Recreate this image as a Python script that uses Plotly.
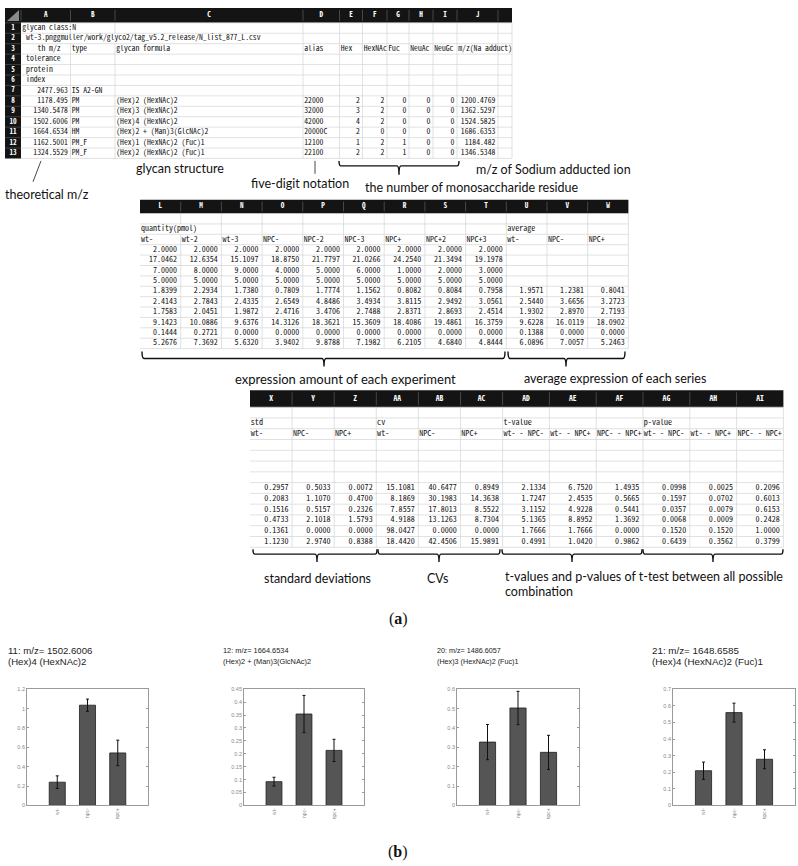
import plotly.graph_objects as go

W, H = 798, 866

# ------------------------------------------------------------------ data
# Table 1 : spreadsheet columns A-J
t1_letters = ["A", "B", "C", "D", "E", "F", "G", "H", "I", "J", ""]
t1_rownums = [str(i) for i in range(1, 14)]
t1_A = ["glycan class:N",
        "\u2002wt-3.pnggmuller/work/glyco2/tag_v5.2_release/N_list_877_L.csv",
        "\u2002\u2002\u2002\u2002th m/z", "\u2002tolerance", "\u2002protein", "\u2002index",
        "2477.963", "1178.495", "1340.5478", "1502.6006", "1664.6534", "1162.5001", "1324.5529"]
t1_B = ["", "", "type", "", "", "", "IS A2-GN", "PM", "PM", "PM", "HM", "PM_F", "PM_F"]
t1_C = ["", "", "glycan formula", "", "", "", "",
        "(Hex)2 (HexNAc)2", "(Hex)3 (HexNAc)2", "(Hex)4 (HexNAc)2",
        "(Hex)2 + (Man)3(GlcNAc)2", "(Hex)1 (HexNAc)2 (Fuc)1", "(Hex)2 (HexNAc)2 (Fuc)1"]
t1_D = ["", "", "alias", "", "", "", "", "22000", "32000", "42000", "20000C", "12100", "22100"]
t1_E = ["", "", "Hex", "", "", "", "", "2", "3", "4", "2", "1", "2"]
t1_F = ["", "", "HexNAc", "", "", "", "", "2", "2", "2", "0", "2", "2"]
t1_G = ["", "", "Fuc", "", "", "", "", "0", "0", "0", "0", "1", "1"]
t1_H = ["", "", "NeuAc", "", "", "", "", "0", "0", "0", "0", "0", "0"]
t1_I = ["", "", "NeuGc", "", "", "", "", "0", "0", "0", "0", "0", "0"]
t1_J = ["", "", "m/z(Na adduct)", "", "", "", "",
        "1200.4769", "1362.5297", "1524.5825", "1686.6353", "1184.482", "1346.5348"]
t1_K = [""] * 13

# Table 2 : quantities (L-T) and averages (U-W)
t2_letters = ["L", "M", "N", "O", "P", "Q", "R", "S", "T", "U", "V", "W"]
t2_names = ["wt-", "wt-2", "wt-3", "NPC-", "NPC-2", "NPC-3", "NPC+", "NPC+2", "NPC+3", "wt-", "NPC-", "NPC+"]
t2_group = ["quantity(pmol)", "", "", "", "", "", "", "", "", "average", "", ""]
q_L = ["2.0000", "17.0462", "7.0000", "5.0000", "1.8399", "2.4143", "1.7583", "9.1423", "0.1444", "5.2676"]
q_M = ["2.0000", "12.6354", "8.0000", "5.0000", "2.2934", "2.7843", "2.0451", "10.0886", "0.2721", "7.3692"]
q_N = ["2.0000", "15.1097", "9.0000", "5.0000", "1.7380", "2.4335", "1.9872", "9.6376", "0.0000", "5.6320"]
q_O = ["2.0000", "18.8750", "4.0000", "5.0000", "0.7809", "2.6549", "2.4716", "14.3126", "0.0000", "3.9402"]
q_P = ["2.0000", "21.7797", "5.0000", "5.0000", "1.7774", "4.8486", "3.4706", "18.3621", "0.0000", "9.8788"]
q_Q = ["2.0000", "21.0266", "6.0000", "5.0000", "1.1562", "3.4934", "2.7488", "15.3609", "0.0000", "7.1982"]
q_R = ["2.0000", "24.2540", "1.0000", "5.0000", "0.8082", "3.8115", "2.8371", "18.4086", "0.0000", "6.2105"]
q_S = ["2.0000", "21.3494", "2.0000", "5.0000", "0.8084", "2.9492", "2.8693", "19.4861", "0.0000", "4.6840"]
q_T = ["2.0000", "19.1978", "3.0000", "5.0000", "0.7958", "3.0561", "2.4514", "16.3759", "0.0000", "4.8444"]
avg_wt = ["", "", "", "", "1.9571", "2.5440", "1.9302", "9.6228", "0.1388", "6.0896"]
avg_npcm = ["", "", "", "", "1.2381", "3.6656", "2.8970", "16.0119", "0.0000", "7.0057"]
avg_npcp = ["", "", "", "", "0.8041", "3.2723", "2.7193", "18.0902", "0.0000", "5.2463"]

# Table 3 : std, cv, t-value, p-value
t3_letters = ["X", "Y", "Z", "AA", "AB", "AC", "AD", "AE", "AF", "AG", "AH", "AI"]
t3_group = ["std", "", "", "cv", "", "", "t-value", "", "", "p-value", "", ""]
t3_names = ["wt-", "NPC-", "NPC+", "wt-", "NPC-", "NPC+",
            "wt- - NPC-", "wt- - NPC+", "NPC- - NPC+", "wt- - NPC-", "wt- - NPC+", "NPC- - NPC+"]
std_wt = ["0.2957", "0.2083", "0.1516", "0.4733", "0.1361", "1.1230"]
std_npcm = ["0.5033", "1.1070", "0.5157", "2.1018", "0.0000", "2.9740"]
std_npcp = ["0.0072", "0.4700", "0.2326", "1.5793", "0.0000", "0.8388"]
cv_wt = ["15.1081", "8.1869", "7.8557", "4.9188", "98.0427", "18.4420"]
cv_npcm = ["40.6477", "30.1983", "17.8013", "13.1263", "0.0000", "42.4506"]
cv_npcp = ["0.8949", "14.3638", "8.5522", "8.7304", "0.0000", "15.9891"]
t_wm = ["2.1334", "1.7247", "3.1152", "5.1365", "1.7666", "0.4991"]
t_wp = ["6.7520", "2.4535", "4.9228", "8.8952", "1.7666", "1.0420"]
t_mp = ["1.4935", "0.5665", "0.5441", "1.3692", "0.0000", "0.9862"]
p_wm = ["0.0998", "0.1597", "0.0357", "0.0068", "0.1520", "0.6439"]
p_wp = ["0.0025", "0.0702", "0.0079", "0.0009", "0.1520", "0.3562"]
p_mp = ["0.2096", "0.6013", "0.6153", "0.2428", "1.0000", "0.3799"]

# Bar charts (b)
bar_cats = ["wt-", "npc-", "npc+"]
p11_mean = [0.240, 1.035, 0.542]
p11_err = [0.065, 0.063, 0.132]
p12_mean = [0.092, 0.354, 0.213]
p12_err = [0.017, 0.072, 0.043]
p20_mean = [0.327, 0.503, 0.274]
p20_err = [0.091, 0.086, 0.088]
p21_mean = [0.209, 0.559, 0.278]
p21_err = [0.052, 0.057, 0.057]
p_titles = [["11: m/z= 1502.6006", "(Hex)4 (HexNAc)2"],
            ["12: m/z= 1664.6534", "(Hex)2 + (Man)3(GlcNAc)2"],
            ["20: m/z= 1486.6057", "(Hex)3 (HexNAc)2 (Fuc)1"],
            ["21: m/z= 1648.6585", "(Hex)4 (HexNAc)2 (Fuc)1"]]
p_yrange = [1.2, 0.45, 0.6, 0.7]
p_dtick = [0.2, 0.05, 0.1, 0.1]

# ------------------------------------------------------------------ helpers
TFONT = "Noto Sans Mono CJK JP, Noto Sans CJK JP, DejaVu Sans Mono, monospace"
LFONT = "Lato, Open Sans, sans-serif"
GRID = "#d4d4d4"

fig = go.Figure()
shapes = []
annotations = []


def is_num(s):
    try:
        float(s)
        return True
    except ValueError:
        return False


def build_table(left, top, widths, header_h, row_h, headers, columns, fsize, hsize,
                left_cols=(), hide=(), rownums=None, lpad=1.2, rpad=3.0):
    xs = [left]
    for w in widths:
        xs.append(xs[-1] + w)
    n_rows = len(columns[0])
    body_top = top + header_h
    bottom = body_top + n_rows * row_h
    c0 = 1 if rownums is not None else 0
    # header band
    shapes.append(dict(type="rect", xref="x", yref="y", x0=xs[0], x1=xs[-1], y0=top, y1=body_top,
                       fillcolor="#141414", line_width=0, layer="below"))
    if rownums is not None:
        shapes.append(dict(type="rect", xref="x", yref="y", x0=xs[0], x1=xs[1], y0=top, y1=bottom,
                           fillcolor="#141414", line_width=0, layer="below"))
        shapes.append(dict(type="path", xref="x", yref="y",
                           path=f"M{xs[1]-2},{top+2} L{xs[1]-2},{body_top-2} L{xs[0]+2},{body_top-2} Z",
                           fillcolor="#8a8a8a", line_width=0, layer="below"))
        for k in range(n_rows):
            yk = body_top + k * row_h
            shapes.append(dict(type="line", xref="x", yref="y", x0=xs[0], x1=xs[1], y0=yk, y1=yk,
                               line=dict(color="#5a5a5a", width=0.6), layer="below"))
    # horizontal grid
    for k in range(n_rows + 1):
        yk = body_top + k * row_h
        shapes.append(dict(type="line", xref="x", yref="y", x0=xs[c0], x1=xs[-1], y0=yk, y1=yk,
                           line=dict(color=GRID, width=0.7), layer="below"))
    # vertical grid (with hidden overflow segments)
    for j in range(c0 + 1, len(xs)):
        seg_start = None
        for r in range(n_rows + 1):
            visible = r < n_rows and (r, j) not in hide
            if visible and seg_start is None:
                seg_start = r
            if not visible and seg_start is not None:
                shapes.append(dict(type="line", xref="x", yref="y", x0=xs[j], x1=xs[j],
                                   y0=body_top + seg_start * row_h, y1=body_top + r * row_h,
                                   line=dict(color=GRID, width=0.7), layer="below"))
                seg_start = None
    # header separators
    for j in range(1, len(xs) - 1):
        shapes.append(dict(type="line", xref="x", yref="y", x0=xs[j], x1=xs[j],
                           y0=top + 2, y1=body_top - 2,
                           line=dict(color="#6a6a6a", width=0.6), layer="below"))
    # texts
    hx, hy, ht = [], [], []
    for ci, h in enumerate(headers):
        j = ci + c0
        if h:
            hx.append((xs[j] + xs[j + 1]) / 2)
            hy.append(top + header_h / 2)
            ht.append(h)
    if rownums is not None:
        for r, s in enumerate(rownums):
            hx.append((xs[0] + xs[1]) / 2)
            hy.append(body_top + (r + 0.5) * row_h)
            ht.append(s)
    fig.add_trace(go.Scatter(x=hx, y=hy, text=ht, mode="text", textposition="middle center",
                             textfont=dict(family=TFONT, size=hsize, color="white", weight="bold"),
                             hoverinfo="skip", cliponaxis=False, xaxis="x", yaxis="y"))
    lx, ly, lt, rx, ry, rt = [], [], [], [], [], []
    for ci, col in enumerate(columns):
        j = ci + c0
        for r, s in enumerate(col):
            if not s:
                continue
            yc = body_top + (r + 0.5) * row_h
            if is_num(s) and ci not in left_cols:
                rx.append(xs[j + 1] - rpad); ry.append(yc); rt.append(s)
            else:
                lx.append(xs[j] + lpad); ly.append(yc); lt.append(s)
    tf = dict(family=TFONT, size=fsize, color="#111111")
    fig.add_trace(go.Scatter(x=lx, y=ly, text=lt, mode="text", textposition="middle right",
                             textfont=tf, hoverinfo="skip", cliponaxis=False, xaxis="x", yaxis="y"))
    fig.add_trace(go.Scatter(x=rx, y=ry, text=rt, mode="text", textposition="middle left",
                             textfont=tf, hoverinfo="skip", cliponaxis=False, xaxis="x", yaxis="y"))


def brace(x0, x1, xc, ytop, ybar, ytip, r=2.0):
    p = (f"M{x0},{ytop} Q{x0},{ybar} {x0 + r},{ybar} L{xc - r},{ybar} "
         f"Q{xc},{ybar} {xc},{ytip} Q{xc},{ybar} {xc + r},{ybar} L{x1 - r},{ybar} Q{x1},{ybar} {x1},{ytop}")
    shapes.append(dict(type="path", xref="x", yref="y", path=p,
                       line=dict(color="#111", width=1.4)))


def label(text, x, y, size=12.5, xanchor="center", family=LFONT):
    annotations.append(dict(text=text, x=x, y=y, xref="x", yref="y", showarrow=False,
                            xanchor=xanchor, yanchor="middle",
                            font=dict(family=family, size=size, color="#111")))


# ------------------------------------------------------------------ table 1
build_table(5, 5, [16, 49.5, 44.5, 188, 36.5, 23, 24.5, 22, 24, 24, 41, 14], 15, 10.5,
            t1_letters,
            [t1_A, t1_B, t1_C, t1_D, t1_E, t1_F, t1_G, t1_H, t1_I, t1_J, t1_K],
            fsize=7.7, hsize=7.2, left_cols=(3,), hide={(1, 2), (1, 3)}, rownums=t1_rownums,
            lpad=1.2, rpad=2.6)

# ------------------------------------------------------------------ table 2
t2_cols_data = [q_L, q_M, q_N, q_O, q_P, q_Q, q_R, q_S, q_T, avg_wt, avg_npcm, avg_npcp]
t2_columns = [["", t2_group[i], t2_names[i]] + t2_cols_data[i] for i in range(12)]
build_table(140, 198, [40.7] * 12, 14, 10.46, t2_letters, t2_columns,
            fsize=8.0, hsize=7.2, hide={(1, 1)}, lpad=1.0, rpad=3.6)

# ------------------------------------------------------------------ table 3
t3_cols_data = [std_wt, std_npcm, std_npcp, cv_wt, cv_npcm, cv_npcp,
                t_wm, t_wp, t_mp, p_wm, p_wp, p_mp]
t3_columns = [["", t3_group[i], t3_names[i], "", "", "", ""] + t3_cols_data[i] for i in range(12)]
build_table(250, 390, [42.1] * 6 + [46.8] * 6, 17, 10.85, t3_letters, t3_columns,
            fsize=8.1, hsize=7.6, lpad=0.8, rpad=3.6)

# ------------------------------------------------------------------ callouts
shapes.append(dict(type="line", xref="x", yref="y", x0=41, y0=159, x1=33, y1=180,
                   line=dict(color="#333", width=0.9)))
shapes.append(dict(type="line", xref="x", yref="y", x0=315, y0=159, x1=315, y1=172,
                   line=dict(color="#333", width=0.9)))
brace(339, 459, 399, 159, 164, 173)
brace(142, 505, 324, 351, 358, 366)
brace(508, 625, 566, 351, 358, 366)
brace(253, 377, 317, 550, 555, 563)
brace(378, 500, 439, 550, 555, 563)
brace(502, 642, 572, 550, 555, 563)
brace(643, 783, 713, 550, 555, 563)

label("theoretical m/z", 47, 193)
label("glycan structure", 180, 167)
label("five-digit notation", 300, 182)
label("the number of monosaccharide residue", 472, 186)
label("m/z of Sodium adducted ion", 553, 168)
label("expression amount of each experiment", 345, 379, size=13)
label("average expression of each series", 615, 378)
label("standard deviations", 317, 580)
label("CVs", 437, 580)
label("t-values and p-values of t-test between all possible", 503, 577, xanchor="left")
label("combination", 503, 593, xanchor="left")
label("(<b>a</b>)", 398, 620, size=16, family="Liberation Serif, serif")
label("(<b>b</b>)", 398, 855, size=16, family="Liberation Serif, serif")

# ------------------------------------------------------------------ bar charts
boxes = [(27, 148), (244, 364), (457, 579), (673, 795)]
title_x = [6, 221, 435, 650]
title_size = [9.6, 7.4, 7.2, 9.8]
means = [p11_mean, p12_mean, p20_mean, p21_mean]
errs = [p11_err, p12_err, p20_err, p21_err]
box_top, box_bot = 691, 808

layout_axes = {}
for i in range(4):
    n = i + 2
    fig.add_trace(go.Bar(x=[0, 1, 2], y=means[i], width=0.53,
                         marker=dict(color="#555555", line=dict(color="#1e1e1e", width=0.8)),
                         error_y=dict(type="data", array=errs[i], color="#111", thickness=1, width=1.5),
                         xaxis=f"x{n}", yaxis=f"y{n}", hoverinfo="skip"))
    layout_axes[f"xaxis{n}"] = dict(domain=[boxes[i][0] / W, boxes[i][1] / W], range=[-1, 3],
                                    anchor=f"y{n}", tickmode="array", tickvals=[0, 1, 2],
                                    ticktext=bar_cats, tickangle=-90, ticks="",
                                    tickfont=dict(family="Liberation Sans, Arial", size=5, color="#888"),
                                    showline=True, mirror=True, linecolor="#9a9a9a", linewidth=0.8,
                                    showgrid=False, zeroline=False, fixedrange=True)
    layout_axes[f"yaxis{n}"] = dict(domain=[1 - box_bot / H, 1 - box_top / H], range=[0, p_yrange[i]],
                                    anchor=f"x{n}", dtick=p_dtick[i], tick0=0,
                                    ticks="inside", ticklen=2, tickcolor="#9a9a9a",
                                    tickfont=dict(family="Liberation Sans, Arial", size=5.5, color="#888"),
                                    showline=True, mirror="ticks", linecolor="#9a9a9a", linewidth=0.8,
                                    showgrid=False, zeroline=False, fixedrange=True)
    for k, line_txt in enumerate(p_titles[i]):
        annotations.append(dict(text=line_txt, x=title_x[i] / W, y=1 - (652 + 11 * k) / H,
                                xref="paper", yref="paper", xanchor="left", yanchor="middle",
                                showarrow=False,
                                font=dict(family="Liberation Sans, Arial", size=title_size[i], color="#222")))

fig.update_layout(
    width=W, height=H, margin=dict(l=0, r=0, t=0, b=0),
    paper_bgcolor="white", plot_bgcolor="rgba(0,0,0,0)", showlegend=False,
    xaxis=dict(domain=[0, 1], range=[0, W], visible=False, fixedrange=True),
    yaxis=dict(domain=[0, 1], range=[H, 0], visible=False, fixedrange=True),
    shapes=shapes, annotations=annotations,
    **layout_axes,
)

fig.write_html("out.html", config={"displayModeBar": False},
               post_script="document.body.style.margin='0';")
